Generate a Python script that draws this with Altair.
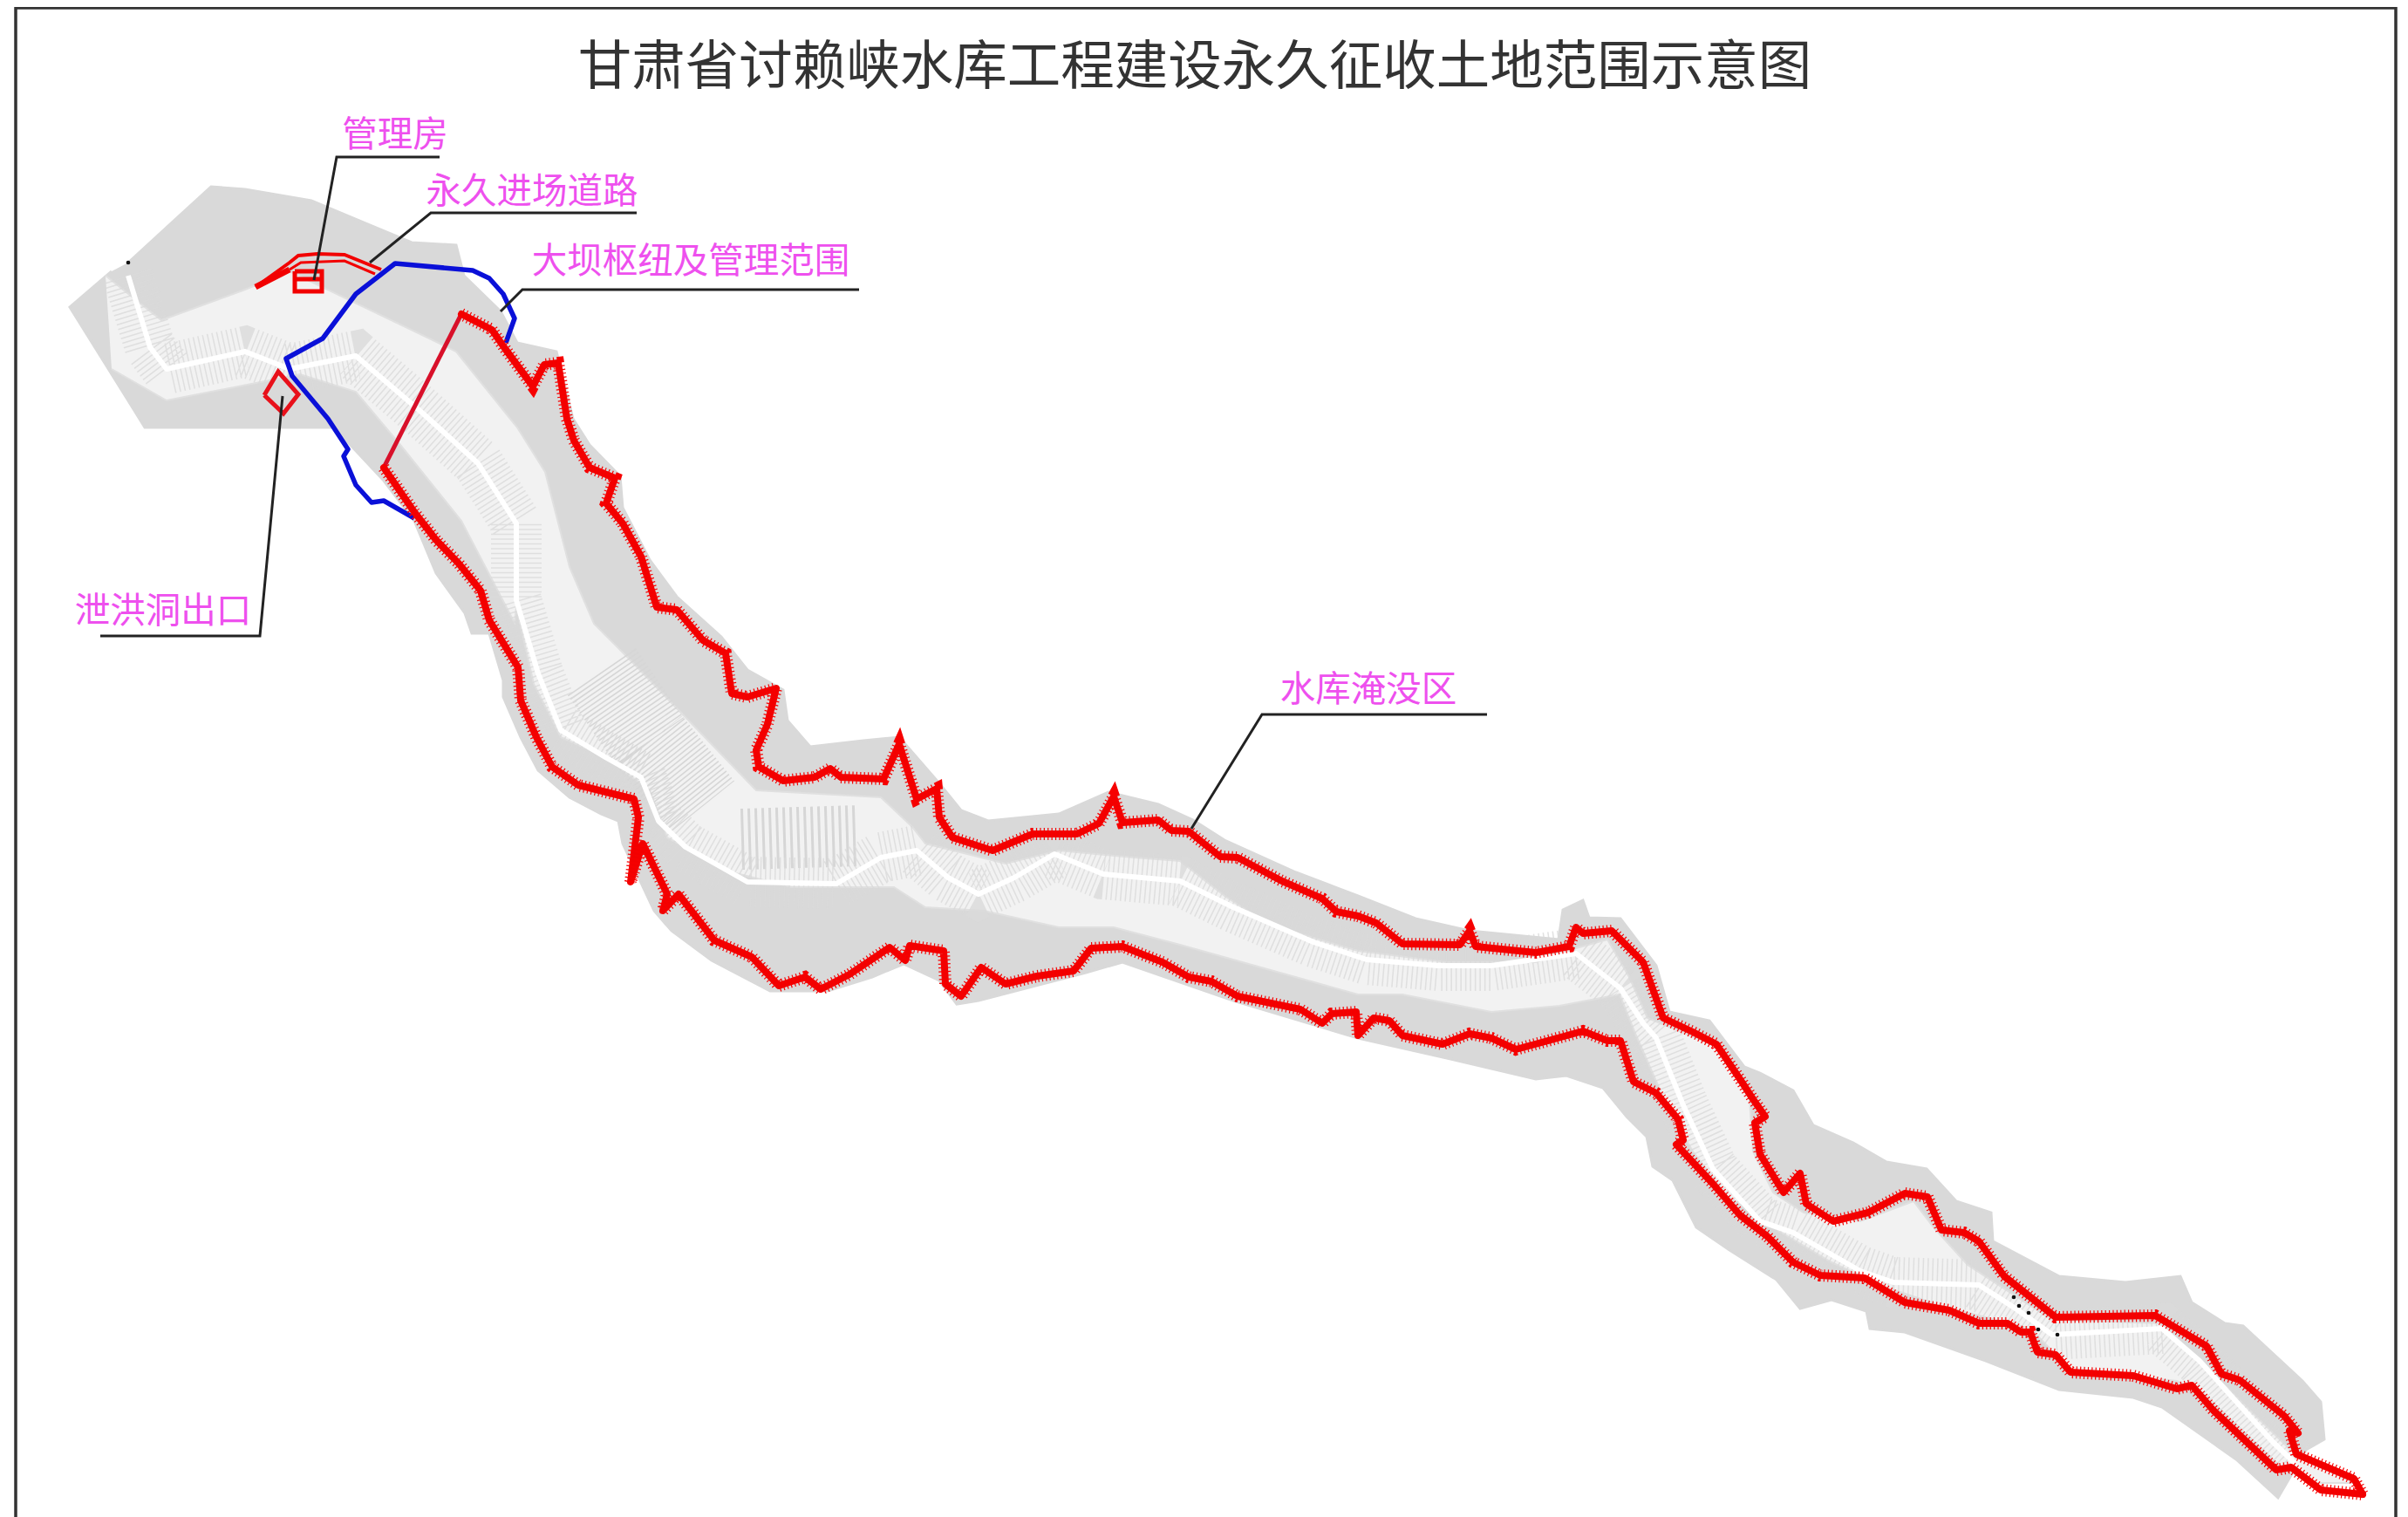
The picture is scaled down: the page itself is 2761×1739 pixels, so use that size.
import altair as alt
import pandas as pd

W, H = 2745, 1731

gray_outline = [(147,301),(242,214),(281,217),(357,230),(472,278),(523,281),(532,316),(574,357),(593,393),(638,403),(657,480),(676,510),(711,546),(714,582),(745,642),(776,684),(827,730),(857,768),(898,791),(903,826),(929,856),(990,849),(1031,845),(1077,898),(1102,929),(1133,941),(1214,933),(1271,908),(1328,922),(1368,940),(1404,963),(1486,1000),(1557,1027),(1623,1053),(1685,1067),(1787,1077),(1792,1043),(1815,1032),(1822,1052),(1858,1053),(1899,1107),(1914,1160),(1960,1170),(2000,1223),(2018,1230),(2056,1250),(2079,1290),(2125,1310),(2163,1332),(2209,1340),(2243,1377),(2283,1390),(2285,1423),(2361,1463),(2437,1470),(2500,1463),(2513,1493),(2551,1517),(2572,1520),(2640,1583),(2661,1607),(2665,1650),(2644,1662),(2612,1717),(2564,1673),(2479,1613),(2446,1602),(2361,1593),(2277,1560),(2184,1527),(2144,1523),(2140,1503),(2100,1490),(2064,1500),(2037,1467),(1983,1433),(1945,1407),(1918,1353),(1895,1337),(1888,1303),(1865,1280),(1838,1247),(1796,1233),(1761,1237),(1659,1213),(1557,1190),(1414,1147),(1287,1103),(1245,1115),(1122,1147),(1097,1151),(1077,1124),(1036,1105),(1000,1120),(949,1136),(883,1136),(816,1101),(770,1067),(750,1044),(714,967),(709,941),(689,933),(653,914),(617,883),(597,845),(577,799),(577,780),(561,726),(541,726),(533,703),(500,657),(475,597),(440,551),(383,490),(166,490),(153,469),(80,352),(128,311)]

valley = [(121,316),(185,367),(281,332),(332,311),(459,372),(523,403),(593,490),(625,541),(653,650),(681,715),(719,753),(867,906),(1010,914),(1046,948),(1061,967),(1153,990),(1214,975),(1300,983),(1353,987),(1404,1027),(1455,1060),(1557,1090),(1659,1103),(1761,1103),(1807,1087),(1843,1077),(1868,1120),(1889,1167),(1968,1200),(2006,1260),(2010,1320),(2033,1367),(2068,1390),(2133,1400),(2194,1377),(2217,1407),(2256,1450),(2353,1513),(2479,1517),(2522,1560),(2627,1663),(2699,1700),(2648,1700),(2614,1680),(2522,1593),(2496,1583),(2374,1570),(2328,1523),(2226,1497),(2155,1473),(2100,1447),(2026,1403),(1980,1370),(1941,1320),(1911,1267),(1876,1187),(1857,1140),(1788,1153),(1710,1160),(1608,1140),(1557,1140),(1353,1083),(1277,1063),(1214,1063),(1128,1044),(1061,1040),(1025,1017),(908,1017),(832,998),(806,983),(765,960),(745,906),(694,868),(643,845),(612,784),(592,696),(590,714),(529,597),(459,510),(408,449),(344,429),(191,459),(128,423)]

river = [(147,316),(172,398),(191,423),(281,403),(332,423),(408,408),(485,474),(548,531),(592,600),(592,688),(617,772),(643,837),(694,868),(735,891),(755,941),(786,971),(827,994),(857,1011),(959,1013),(1010,983),(1051,975),(1087,1006),(1122,1025),(1163,1006),(1209,979),(1265,1002),(1353,1010),(1414,1040),(1506,1080),(1567,1100),(1649,1107),(1710,1107),(1807,1093),(1858,1133),(1884,1173),(1899,1190),(1930,1267),(1964,1340),(2018,1400),(2056,1413),(2133,1457),(2171,1470),(2269,1473),(2311,1500),(2353,1530),(2479,1523),(2522,1560),(2606,1653),(2631,1677)]

contour_field = [(690,770),(745,850),(805,925)]
lace_field = [(850,962),(985,958)]

red_upper = [(529,360),(564,378),(580,401),(611,443),(624,418),(640,416),(650,480),(658,505),(676,536),(705,548),(695,577),(714,600),(735,638),(753,696),(776,699),(806,734),(832,749),(839,795),(857,799),(890,789),(880,830),(867,860),(870,879),(898,895),(934,891),(952,881),(964,891),(1013,893),(1031,853),(1051,916),(1074,904),(1077,937),(1092,960),(1138,975),(1184,956),(1235,956),(1260,944),(1277,913),(1287,943),(1328,940),(1343,952),(1363,953),(1399,982),(1419,983),(1470,1010),(1516,1030),(1532,1045),(1557,1050),(1578,1058),(1608,1082),(1674,1083),(1685,1067),(1692,1085),(1761,1092),(1799,1085),(1807,1063),(1815,1070),(1848,1067),(1884,1103),(1907,1167),(1941,1183),(1968,1197),(1995,1237),(2010,1260),(2024,1280),(2012,1287),(2018,1323),(2045,1367),(2064,1345),(2071,1380),(2102,1400),(2142,1390),(2184,1368),(2210,1372),(2226,1410),(2252,1413),(2269,1423),(2298,1463),(2357,1510),(2471,1508),(2530,1543),(2547,1575),(2568,1582),(2619,1623),(2635,1643),(2625,1640),(2633,1667),(2699,1695),(2709,1713)]

red_lower = [(440,536),(475,587),(500,619),(526,646),(551,677),(561,711),(594,765),(597,803),(615,845),(633,879),(663,900),(727,916),(732,937),(723,1011),(737,967),(765,1025),(760,1044),(778,1025),(819,1078),(862,1097),(893,1130),(923,1120),(941,1134),(974,1117),(1020,1086),(1038,1101),(1043,1084),(1082,1090),(1084,1128),(1102,1142),(1125,1109),(1153,1128),(1189,1119),(1231,1113),(1251,1087),(1287,1085),(1333,1103),(1363,1120),(1389,1125),(1419,1142),(1491,1157),(1516,1173),(1527,1162),(1555,1160),(1557,1187),(1575,1167),(1593,1170),(1608,1187),(1654,1197),(1685,1185),(1710,1190),(1738,1203),(1815,1182),(1843,1193),(1858,1193),(1873,1240),(1899,1253),(1924,1283),(1930,1307),(1922,1312),(1964,1357),(1995,1393),(2026,1417),(2056,1447),(2087,1462),(2138,1465),(2184,1493),(2235,1502),(2269,1517),(2302,1517),(2317,1527),(2328,1527),(2336,1550),(2357,1553),(2374,1573),(2446,1577),(2496,1592),(2513,1588),(2538,1617),(2610,1685),(2627,1682),(2661,1708),(2709,1713)]

dam_axis = [(440,536),(529,360)]
blue_line = [(475,594),(440,574),(426,576),(408,556),(394,523),(399,515),(376,480),(335,431),(328,411),(370,388),(408,337),(453,302),(542,310),(561,319),(577,337),(590,365),(580,393)]
road_a = [(293,329),(332,301),(342,293),(364,291),(395,292),(437,309)]
road_b = [(332,309),(345,301),(395,299),(430,314)]
road_c = [(293,329),(332,309)]
house = [(338,311),(369,311),(369,334),(338,334),(338,311)]
house_bar = [(338,320),(369,320)]
outlet = [(303,453),(319,426),(342,452),(325,474),(303,453)]

leaders = [
    [(504,180),(386,180),(360,321)],
    [(730,244),(494,244),(424,301)],
    [(985,332),(599,332),(574,357)],
    [(115,729),(298,729),(324,454)],
    [(1705,819),(1447,819),(1366,950)],
]
frame = [(18,1745),(18,9),(2747,9),(2747,1745)]

label_text = ["管理房", "永久进场道路", "大坝枢纽及管理范围", "泄洪洞出口", "水库淹没区"]
label_x = [453, 610, 792, 187, 1569]
label_y = [156, 221, 301, 702, 792]
title_text = ["甘肃省讨赖峡水库工程建设永久征收土地范围示意图"]
title_x = [1370]
title_y = [79]
spots_x = [147, 2309, 2315, 2326, 2337, 2359]
spots_y = [301, 1487, 1497, 1505, 1524, 1530]

sx = alt.Scale(domain=[8, 8 + W], range=[0, W])
sy = alt.Scale(domain=[8, 8 + H], range=[0, H])
X = alt.X("x:Q", scale=sx, axis=None)
Y = alt.Y("y:Q", scale=sy, axis=None)


def frame_of(points):
    return pd.DataFrame({"x": [p[0] for p in points], "y": [p[1] for p in points], "i": range(len(points))})


def line(points, **mark):
    return alt.Chart(frame_of(points)).mark_line(clip=False, **mark).encode(x=X, y=Y, order="i:Q")


red_style = dict(color="#f20000", strokeWidth=8, strokeJoin="round", strokeCap="round")
fringe = dict(color="#f60000", strokeWidth=14, strokeDash=[1.2, 3.2])

layers = [
    line(gray_outline, fill="#d9d9d9", stroke="#d9d9d9", strokeWidth=3),
    line(valley, fill="#f2f2f2", stroke="#e0e0e0", strokeWidth=2),
    line(contour_field, color="#d6d6d6", strokeWidth=95, strokeDash=[1.6, 3.2]),
    line(lace_field, color="#d6d6d6", strokeWidth=70, strokeDash=[3, 5]),
    line(river, color="#dadada", strokeWidth=58, strokeDash=[1.5, 4], opacity=0.8),
    line(river, color="#ffffff", strokeWidth=6, strokeJoin="round"),
    line(frame, color="#333333", strokeWidth=3.5),
    line(blue_line, color="#0a10d8", strokeWidth=5.5, strokeJoin="round"),
    line(dam_axis, color="#d8102a", strokeWidth=5),
    line(red_upper, **red_style),
    line(red_upper, **fringe),
    line(red_lower, **red_style),
    line(red_lower, **fringe),
    line(road_a, color="#f20000", strokeWidth=4),
    line(road_b, color="#f20000", strokeWidth=3),
    line(road_c, color="#f20000", strokeWidth=7),
    line(house, color="#f20000", strokeWidth=5),
    line(house_bar, color="#f20000", strokeWidth=5),
    line(outlet, color="#e8101a", strokeWidth=5),
]
for leader in leaders:
    layers.append(line(leader, color="#222222", strokeWidth=3))

layers.append(
    alt.Chart(pd.DataFrame({"x": spots_x, "y": spots_y}))
    .mark_point(filled=True, color="#111111", size=22, opacity=1)
    .encode(x=X, y=Y)
)
layers.append(
    alt.Chart(pd.DataFrame({"x": label_x, "y": label_y, "t": label_text}))
    .mark_text(font="Noto Sans CJK SC", fontSize=40.5, color="#ee50ee", align="center", baseline="middle")
    .encode(x=X, y=Y, text="t:N")
)
layers.append(
    alt.Chart(pd.DataFrame({"x": title_x, "y": title_y, "t": title_text}))
    .mark_text(font="Noto Sans CJK SC", fontSize=61.5, color="#333333", align="center", baseline="middle")
    .encode(x=X, y=Y, text="t:N")
)

chart = (
    alt.layer(*layers)
    .properties(width=W, height=H, padding=0, background="white",
                autosize=alt.AutoSizeParams(type="none"))
    .configure_view(stroke=None)
)
chart.save("out.html", embed_options={"renderer": "svg", "actions": False})
